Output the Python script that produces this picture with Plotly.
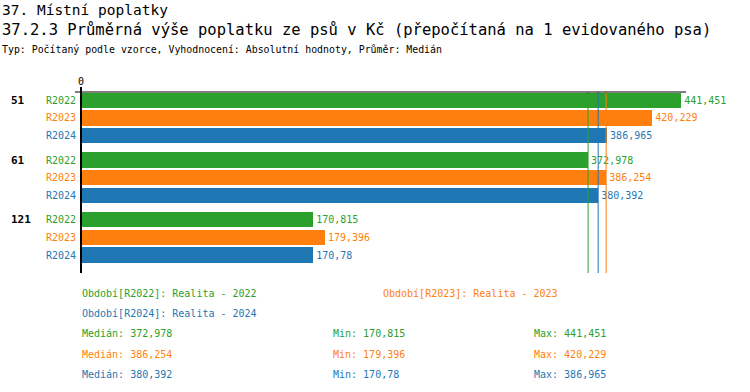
import numpy as np
import plotly.graph_objects as go

# ---- data ----
groups = ["51", "61", "121"]
periods = ["R2022", "R2023", "R2024"]
period_names = ["Realita - 2022", "Realita - 2023", "Realita - 2024"]
values_2022 = [441.451, 372.978, 170.815]
values_2023 = [420.229, 386.254, 179.396]
values_2024 = [386.965, 380.392, 170.78]
colors = ["#2ca02c", "#ff7f0e", "#1f77b4"]

title1 = "37. Místní poplatky"
title2 = "37.2.3 Průměrná výše poplatku ze psů v Kč (přepočítaná na 1 evidovaného psa)"
subtitle = "Typ: Počítaný podle vzorce, Vyhodnocení: Absolutní hodnoty, Průměr: Medián"

series = [values_2022, values_2023, values_2024]

# ---- layout geometry (pixels) ----
W, H = 750, 392
L, R = 81, 686
T, B = 92, 273
PW, PH = R - L, B - T
XMAX = 445
FONT = "DejaVu Sans Mono"

FIRST = 8.3
BAR_STEP = 17.65
GROUP_STEP = 59.7
BAR_W = 15.5


def px(x):
    return (x - L) / PW


def py(y):
    return (B - y) / PH


def fmt(v):
    return f"{v:g}".replace(".", ",")


fig = go.Figure()
for k, (vals, col, per) in enumerate(zip(series, colors, periods)):
    ys = [FIRST + g * GROUP_STEP + k * BAR_STEP for g in range(len(groups))]
    fig.add_trace(go.Bar(
        x=vals, y=ys, orientation="h", width=BAR_W,
        marker=dict(color=col, line=dict(width=0)),
        text=[fmt(v) for v in vals], textposition="outside",
        textfont=dict(family=FONT, size=10, color=col),
        constraintext="none", cliponaxis=False, name=per,
        hoverinfo="skip",
    ))

ann = []
# row labels and group labels
for g, gl in enumerate(groups):
    y0 = T + FIRST + g * GROUP_STEP
    ann.append(dict(text=f"<b>{gl}</b>", x=px(9), y=py(y0), xanchor="left", yanchor="middle",
                    font=dict(family=FONT, size=11, color="black")))
    for k, per in enumerate(periods):
        yk = T + FIRST + g * GROUP_STEP + k * BAR_STEP
        ann.append(dict(text=per, x=px(77.5), y=py(yk), xanchor="right", yanchor="middle",
                        font=dict(family=FONT, size=10, color=colors[k])))

# titles
ann.append(dict(text=title1, x=px(0), y=py(9.5), xanchor="left", yanchor="middle",
                font=dict(family=FONT, size=14.5, color="black")))
ann.append(dict(text=title2, x=px(0), y=py(30), xanchor="left", yanchor="middle",
                font=dict(family=FONT, size=15.5, color="black")))
ann.append(dict(text=subtitle, x=px(0), y=py(49.5), xanchor="left", yanchor="middle",
                font=dict(family=FONT, size=9.9, color="black")))

# legend-like footer
ROW0, ROWS = 293.5, 20.2
leg_pos = [(80, ROW0), (381, ROW0), (80, ROW0 + ROWS)]
for k in range(3):
    x0, y0 = leg_pos[k]
    ann.append(dict(text=f"Období[{periods[k]}]: {period_names[k]}", x=px(x0), y=py(y0),
                    xanchor="left", yanchor="middle", font=dict(family=FONT, size=10, color=colors[k])))
for k, vals in enumerate(series):
    y0 = ROW0 + (2 + k) * ROWS
    for x0, lab, v in [(80, "Medián", np.median(vals)), (331, "Min", min(vals)), (532, "Max", max(vals))]:
        ann.append(dict(text=f"{lab}: {fmt(v)}", x=px(x0), y=py(y0), xanchor="left", yanchor="middle",
                        font=dict(family=FONT, size=10, color=colors[k])))

for a in ann:
    a.update(xref="paper", yref="paper", showarrow=False)

shapes = []
# median lines
for k, vals in enumerate(series):
    m = float(np.median(vals))
    shapes.append(dict(type="line", xref="x", yref="paper", x0=m, x1=m, y0=0, y1=1,
                       line=dict(color=colors[k], width=1)))
# axes lines
shapes.append(dict(type="line", xref="paper", yref="paper", x0=px(75), x1=1, y0=1, y1=1,
                   line=dict(color="black", width=1)))
shapes.append(dict(type="line", xref="paper", yref="paper", x0=0, x1=0, y0=0, y1=py(87),
                   line=dict(color="black", width=2)))

fig.update_layout(
    width=W, height=H, margin=dict(l=L, r=W - R, t=T, b=H - B, pad=0),
    paper_bgcolor="white", plot_bgcolor="white", showlegend=False,
    bargap=0, barmode="overlay",
    xaxis=dict(range=[0, XMAX], side="top", tickvals=[0], ticktext=["0"], showgrid=False,
               zeroline=False, showline=False, ticks="", tickfont=dict(family=FONT, size=10, color="black"),
               ticklabelstandoff=4),
    yaxis=dict(range=[PH, 0], showgrid=False, zeroline=False, showline=False,
               showticklabels=False, ticks=""),
    annotations=ann, shapes=shapes,
)

fig.write_html("out.html", config={"displayModeBar": False, "staticPlot": True},
               post_script="document.body.style.margin='0';document.body.style.overflow='hidden';")
